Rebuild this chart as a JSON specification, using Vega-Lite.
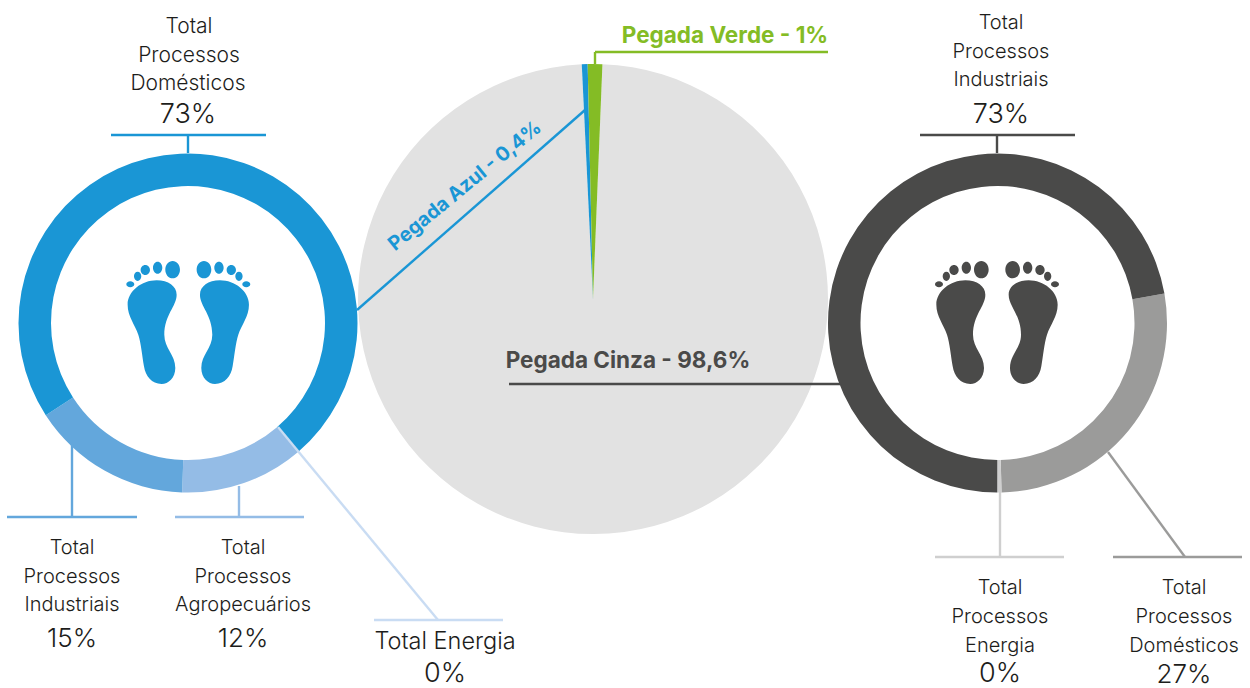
{
"$schema":"https://vega.github.io/schema/vega-lite/v6.json",
"width":1250,"height":688,"padding":0,
"autosize":{"type":"none"},
"background":"white",
"view":{"stroke":null},
"config":{"text":{"font":"Inter"},"axis":{"domain":false,"grid":false,"ticks":false,"labels":false,"title":null}},
"datasets":{
"pegadas":[
{"serie":"Pegada Cinza","valor":98.6,"ordem":1},
{"serie":"Pegada Azul","valor":0.4,"ordem":2},
{"serie":"Pegada Verde","valor":1.0,"ordem":3}],
"azul":[
{"serie":"Azul Agropecuários","valor":11.8,"ordem":1},
{"serie":"Azul Industriais","valor":15.3,"ordem":2},
{"serie":"Azul Domésticos","valor":72.9,"ordem":3}],
"cinza":[
{"serie":"Cinza Domésticos","valor":27.4,"ordem":1},
{"serie":"Cinza Energia","valor":0.4,"ordem":2},
{"serie":"Cinza Industriais","valor":72.2,"ordem":3}],
"linhas":[
{"serie":"Azul Domésticos","a":111,"b":135,"c":266,"d":135},
{"serie":"Azul Domésticos","a":188,"b":135,"c":188,"d":153},
{"serie":"Azul Industriais","a":7,"b":517,"c":137,"d":517},
{"serie":"Azul Industriais","a":72,"b":444,"c":72,"d":517},
{"serie":"Azul Agropecuários","a":175,"b":517,"c":304,"d":517},
{"serie":"Azul Agropecuários","a":239,"b":486,"c":239,"d":517},
{"serie":"Azul Energia","a":374,"b":620,"c":503,"d":620},
{"serie":"Azul Energia","a":278,"b":427,"c":438,"d":620},
{"serie":"Pegada Azul","a":357,"b":310,"c":585,"d":110},
{"serie":"Pegada Verde","a":595,"b":52,"c":595,"d":64},
{"serie":"Pegada Verde","a":595,"b":52,"c":828,"d":52},
{"serie":"Cinza Industriais","a":509,"b":384,"c":840,"d":384},
{"serie":"Cinza Industriais","a":920,"b":135,"c":1075,"d":135},
{"serie":"Cinza Industriais","a":997,"b":135,"c":997,"d":153},
{"serie":"Cinza Energia","a":1000,"b":492,"c":1000,"d":557},
{"serie":"Cinza Energia","a":935,"b":557,"c":1064,"d":557},
{"serie":"Cinza Domésticos","a":1108,"b":452,"c":1185,"d":557},
{"serie":"Cinza Domésticos","a":1113,"b":557,"c":1242,"d":557}],
"rotulosTopo":[
{"t":"Total","a":189,"b":25},{"t":"Processos","a":189,"b":54},{"t":"Domésticos","a":188,"b":82}],
"rotulos":[
{"t":"Total","a":72,"b":546},{"t":"Processos","a":72,"b":575},{"t":"Industriais","a":72,"b":603},
{"t":"Total","a":243,"b":546},{"t":"Processos","a":243,"b":575},{"t":"Agropecuários","a":243,"b":603},
{"t":"Total","a":1001,"b":21},{"t":"Processos","a":1001,"b":50},{"t":"Industriais","a":1001,"b":78},
{"t":"Total","a":1000,"b":586},{"t":"Processos","a":1000,"b":615},{"t":"Energia","a":1000,"b":644},
{"t":"Total","a":1184,"b":586},{"t":"Processos","a":1184,"b":615},{"t":"Domésticos","a":1184,"b":644}],
"rotuloEnergia":[{"t":"Total Energia","a":445,"b":640}],
"percentuais":[
{"t":"15%","a":72,"b":637},{"t":"12%","a":243,"b":637},{"t":"27%","a":1184,"b":673}],
"percentuaisMaiores":[
{"t":"73%","a":188,"b":113},{"t":"0%","a":445,"b":672},
{"t":"73%","a":1001,"b":113},{"t":"0%","a":1000,"b":672}],
"destaques":[
{"t":"Pegada Verde - 1%","a":725,"b":35,"serie":"Pegada Verde"},
{"t":"Pegada Cinza - 98,6%","a":628,"b":360,"serie":"Cinza Industriais"}],
"destaqueAzul":[{"t":"Pegada Azul - 0,4%","a":465,"b":186,"serie":"Pegada Azul"}],
"pes":[{"serie":"Azul Domésticos","a":188.3,"b":323},{"serie":"Cinza Industriais","a":997,"b":323}]
},
"layer":[
{"data":{"name":"pegadas"},"mark":{"type":"arc","outerRadius":235,"innerRadius":0},
 "encoding":{
  "x":{"datum":593,"type":"quantitative","scale":{"domain":[0,1250],"nice":false,"zero":false},"axis":null},
  "y":{"datum":299,"type":"quantitative","scale":{"domain":[688,0],"nice":false,"zero":false},"axis":null},
  "theta":{"field":"valor","type":"quantitative","scale":{"domain":[0,100],"range":[0.0401,6.3233]},"stack":true},
  "order":{"field":"ordem"},
  "color":{"field":"serie","type":"nominal","legend":null,"scale":{
   "domain":["Pegada Cinza","Pegada Azul","Pegada Verde","Azul Domésticos","Azul Industriais","Azul Agropecuários","Azul Energia","Cinza Industriais","Cinza Domésticos","Cinza Energia"],
   "range":["#e2e2e2","#1a96d5","#84bc25","#1a96d5","#63a7dc","#94bce6","#c9dcf3","#4a4a49","#9b9b9a","#cfcfcf"]}}}},
{"data":{"name":"azul"},"mark":{"type":"arc","outerRadius":169.5,"innerRadius":137},
 "encoding":{
  "x":{"datum":188,"type":"quantitative","axis":null},
  "y":{"datum":323,"type":"quantitative","axis":null},
  "theta":{"field":"valor","type":"quantitative","scale":{"domain":[0,100],"range":[2.4347,8.7179]},"stack":true},
  "order":{"field":"ordem"},
  "color":{"field":"serie","type":"nominal","legend":null}}},
{"data":{"name":"cinza"},"mark":{"type":"arc","outerRadius":169.5,"innerRadius":137},
 "encoding":{
  "x":{"datum":997.5,"type":"quantitative","axis":null},
  "y":{"datum":323,"type":"quantitative","axis":null},
  "theta":{"field":"valor","type":"quantitative","scale":{"domain":[0,100],"range":[1.3963,7.6795]},"stack":true},
  "order":{"field":"ordem"},
  "color":{"field":"serie","type":"nominal","legend":null}}},
{"data":{"name":"linhas"},"mark":{"type":"rule","strokeWidth":2.4},
 "encoding":{
  "x":{"field":"a","type":"quantitative","axis":null},"y":{"field":"b","type":"quantitative","axis":null},
  "x2":{"field":"c"},"y2":{"field":"d"},
  "color":{"field":"serie","type":"nominal","legend":null}}},
{"data":{"name":"pes"},"mark":{"type":"point","filled":true,"opacity":1,"strokeWidth":0,"size":0.4444,
 "shape":"M-95,-128 C-60,-128 -35,-110 -35,-85 C-35,-50 -72,-25 -72,35 C-72,75 -39,95 -39,135 C-39,165 -60,183 -80,183 C-110,183 -128,160 -133,130 C-138,100 -142,60 -150,35 C-160,5 -182,-20 -182,-55 C-182,-95 -140,-128 -95,-128 Z M95,-128 C60,-128 35,-110 35,-85 C35,-50 72,-25 72,35 C72,75 39,95 39,135 C39,165 60,183 80,183 C110,183 128,160 133,130 C138,100 142,60 150,35 C160,5 182,-20 182,-55 C182,-95 140,-128 95,-128 Z M-69,-160 a22,26 0 1,0 44,0 a22,26 0 1,0 -44,0 Z M-106,-166 a14,18 0 1,0 28,0 a14,18 0 1,0 -28,0 Z M-143,-159 a14,15 0 1,0 28,0 a14,15 0 1,0 -28,0 Z M-163,-140 a11,14 0 1,0 22,0 a11,14 0 1,0 -22,0 Z M-186,-116 a12,9 0 1,0 24,0 a12,9 0 1,0 -24,0 Z M25,-160 a22,26 0 1,0 44,0 a22,26 0 1,0 -44,0 Z M78,-166 a14,18 0 1,0 28,0 a14,18 0 1,0 -28,0 Z M115,-159 a14,15 0 1,0 28,0 a14,15 0 1,0 -28,0 Z M141,-140 a11,14 0 1,0 22,0 a11,14 0 1,0 -22,0 Z M162,-116 a12,9 0 1,0 24,0 a12,9 0 1,0 -24,0 Z"},
 "encoding":{
  "x":{"field":"a","type":"quantitative","axis":null},"y":{"field":"b","type":"quantitative","axis":null},
  "color":{"field":"serie","type":"nominal","legend":null}}},
{"data":{"name":"rotulosTopo"},"mark":{"type":"text","font":"Inter","fontWeight":300,"fontSize":21,"dy":1.5,"align":"center","baseline":"middle","fill":"#1d1d1b"},
 "encoding":{"x":{"field":"a","type":"quantitative","axis":null},"y":{"field":"b","type":"quantitative","axis":null},"text":{"field":"t"}}},
{"data":{"name":"rotulos"},"mark":{"type":"text","font":"Inter","fontWeight":300,"fontSize":20,"dy":1.5,"align":"center","baseline":"middle","fill":"#1d1d1b"},
 "encoding":{"x":{"field":"a","type":"quantitative","axis":null},"y":{"field":"b","type":"quantitative","axis":null},"text":{"field":"t"}}},
{"data":{"name":"rotuloEnergia"},"mark":{"type":"text","font":"Inter","fontWeight":300,"fontSize":23.5,"dy":1.5,"align":"center","baseline":"middle","fill":"#1d1d1b"},
 "encoding":{"x":{"field":"a","type":"quantitative","axis":null},"y":{"field":"b","type":"quantitative","axis":null},"text":{"field":"t"}}},
{"data":{"name":"percentuais"},"mark":{"type":"text","font":"Inter","fontWeight":300,"fontSize":26,"dy":1.5,"align":"center","baseline":"middle","fill":"#1d1d1b"},
 "encoding":{"x":{"field":"a","type":"quantitative","axis":null},"y":{"field":"b","type":"quantitative","axis":null},"text":{"field":"t"}}},
{"data":{"name":"percentuaisMaiores"},"mark":{"type":"text","font":"Inter","fontWeight":300,"fontSize":27,"dy":1.5,"align":"center","baseline":"middle","fill":"#1d1d1b"},
 "encoding":{"x":{"field":"a","type":"quantitative","axis":null},"y":{"field":"b","type":"quantitative","axis":null},"text":{"field":"t"}}},
{"data":{"name":"destaques"},"mark":{"type":"text","font":"Inter","fontWeight":700,"fontSize":22.5,"dy":1,"align":"center","baseline":"middle"},
 "encoding":{"x":{"field":"a","type":"quantitative","axis":null},"y":{"field":"b","type":"quantitative","axis":null},"text":{"field":"t"},
  "color":{"field":"serie","type":"nominal","legend":null}}},
{"data":{"name":"destaqueAzul"},"mark":{"type":"text","font":"Inter","fontWeight":700,"fontSize":19.7,"align":"center","baseline":"middle","angle":320.5},
 "encoding":{"x":{"field":"a","type":"quantitative","axis":null},"y":{"field":"b","type":"quantitative","axis":null},"text":{"field":"t"},
  "color":{"field":"serie","type":"nominal","legend":null}}}
],
"resolve":{"scale":{"theta":"independent"}}
}
